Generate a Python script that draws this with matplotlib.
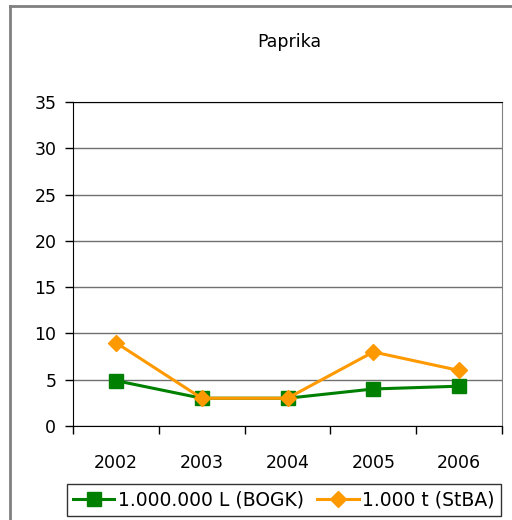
import matplotlib
matplotlib.use("Agg")
import matplotlib.pyplot as plt
from matplotlib.lines import Line2D

# data
years = ["2002", "2003", "2004", "2005", "2006"]
bogk = [4.9, 3.0, 3.0, 4.0, 4.3]      # 1.000.000 L (BOGK)
stba = [9.0, 3.0, 3.0, 8.0, 6.0]      # 1.000 t (StBA)
yticks = [0, 5, 10, 15, 20, 25, 30, 35]

plt.rcParams['font.family'] = ['DejaVu Sans']

fig = plt.figure(figsize=(5.12, 5.2), dpi=100)
ax = fig.add_axes([73 / 512, 1 - 426 / 520, 429 / 512, 324 / 520])

x = list(range(len(years)))
ax.plot(x, bogk, color='#008000', lw=2.2, marker='s', ms=10,
        label='1.000.000 L (BOGK)', zorder=3)
ax.plot(x, stba, color='#FF9900', lw=2.2, marker='D', ms=8.5,
        label='1.000 t (StBA)', zorder=4)

ax.set_xlim(-0.5, len(years) - 0.5)
ax.set_ylim(0, 35)
ax.set_yticks(yticks)
ax.yaxis.grid(True, color='#707070', lw=1)
ax.set_axisbelow(True)

# category labels centred, tick marks between categories
ax.set_xticks(x)
ax.set_xticklabels(years)
ax.tick_params(axis='x', length=0, pad=20, labelsize=12.5)
ax.set_xticks([i - 0.5 for i in range(len(years) + 1)], minor=True)
ax.tick_params(axis='x', which='minor', length=6, width=1, direction='out')
ax.tick_params(axis='y', length=6, width=1, direction='out', pad=6, labelsize=12.5)

for s in ['left', 'bottom', 'top']:
    ax.spines[s].set_color('black')
ax.spines['right'].set_color('#808080')

fig.text(289 / 512, 1 - 42 / 520, 'Paprika', ha='center', va='center', fontsize=12.5)

leg = fig.legend(loc='center', bbox_to_anchor=(284 / 512, 1 - 500 / 520),
                 ncol=2, fontsize=13.5, frameon=True, fancybox=False,
                 edgecolor='black', handlelength=2.2, handletextpad=0.2,
                 columnspacing=0.7, borderpad=0.35)
leg.get_frame().set_linewidth(1)

# outer chart-area frame (left and top edges visible)
fig.add_artist(Line2D([10 / 512, 10 / 512], [0, 1 - 5.5 / 520],
                      transform=fig.transFigure, color='#808080', lw=2))
fig.add_artist(Line2D([10 / 512, 1], [1 - 5.5 / 520, 1 - 5.5 / 520],
                      transform=fig.transFigure, color='#808080', lw=2))

fig.savefig('out.png', dpi=100)
